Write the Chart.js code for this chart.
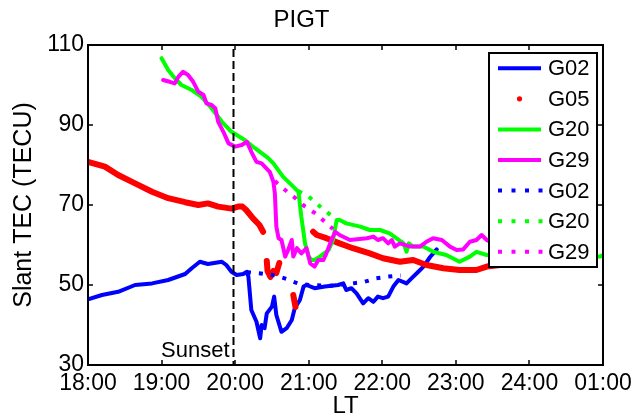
<!DOCTYPE html>
<html>
<head>
<meta charset="utf-8">
<script src="https://cdn.jsdelivr.net/npm/chart.js@4.4.1/dist/chart.umd.min.js"></script>
<style>
html,body{margin:0;padding:0;background:#fff;}
canvas{display:block;}
</style>
</head>
<body>
<canvas id="c" width="644" height="418"></canvas>
<script>
// ---------- data ----------
const xTickLabels = ['18:00','19:00','20:00','21:00','22:00','23:00','24:00','01:00'];
const yTicks = [30, 50, 70, 90, 110];
const sunsetTime = 19.97;

const g02Time = [18.0,18.19,18.41,18.64,18.87,19.09,19.32,19.41,19.52,19.63,19.82,19.88,19.95,20.02,20.11,20.16,20.18,20.22,20.29,20.34,20.36,20.40,20.43,20.50,20.53,20.56,20.63,20.70,20.77,20.81,20.88,20.93,20.97,21.08,21.22,21.40,21.47,21.51,21.58,21.65,21.74,21.81,21.88,21.94,22.01,22.08,22.15,22.22,22.33,22.40,22.49,22.56,22.65,22.74];
const g02Tec  = [46.4,47.5,48.3,50.0,50.4,51.25,52.75,54.2,55.8,55.25,55.8,55.0,53.3,52.5,52.75,53.3,52.1,43.75,40.8,36.7,40.0,39.2,42.9,44.6,47.1,42.5,38.3,39.2,41.25,44.2,46.25,49.6,50.0,49.2,49.6,50.0,50.4,48.75,49.2,47.9,45.4,46.7,45.8,47.1,46.7,47.1,49.6,51.25,50.4,51.7,53.3,54.6,57.0,58.9];

const g05Time = [18.0,18.23,18.41,18.64,18.87,19.09,19.32,19.50,19.63,19.77,19.95,20.04,20.10,20.15,20.24,20.33,20.38,20.40,20.43,20.44,20.48,20.52,20.56,20.60,20.70,20.79,20.81,20.82,21.0,21.06,21.11,21.24,21.42,21.60,21.83,22.01,22.24,22.42,22.60,22.83,23.05,23.28,23.42,23.6];
const g05Tec  = [80.8,79.6,77.5,75.4,73.3,71.7,70.7,70.0,70.4,69.6,69.1,69.6,69.6,68.75,66.7,65.0,63.3,null,56.0,53.5,52.0,53.5,53.0,55.5,null,47.5,45.5,44.5,null,63.3,62.5,61.7,60.4,59.2,57.9,56.7,55.8,56.25,55.0,54.2,53.75,53.75,54.6,55.0];

const g20Time = [19.0,19.09,19.18,19.27,19.41,19.54,19.68,19.82,19.95,20.13,20.27,20.45,20.52,20.65,20.79,20.86,20.90,20.95,21.0,21.04,21.08,21.15,21.27,21.33,21.38,21.42,21.51,21.70,21.83,21.97,22.10,22.19,22.29,22.33,22.36,22.42,22.56,22.69,22.87,23.05,23.19,23.28,23.42,23.7,24.0,24.3,24.6,24.96,25.0];
const g20Tec  = [106.7,103.75,101.7,100.0,98.75,97.1,94.2,90.8,88.3,86.25,84.2,81.7,80.4,77.1,74.6,73.3,67.0,60.4,57.1,56.25,56.25,57.1,58.75,61.25,66.25,66.25,65.4,64.6,63.75,63.75,62.9,61.7,60.4,58.3,60.4,59.6,59.6,58.3,57.5,55.8,57.1,58.3,57.5,57.5,57.0,56.5,56.8,57.1,57.5];

const g29Time = [19.02,19.11,19.18,19.23,19.29,19.36,19.43,19.50,19.57,19.61,19.68,19.73,19.77,19.84,19.91,20.0,20.09,20.16,20.22,20.29,20.36,20.47,20.52,20.54,20.56,20.59,20.63,20.68,20.72,20.77,20.79,20.84,20.90,20.97,21.02,21.08,21.13,21.20,21.24,21.31,21.36,21.42,21.56,21.79,21.88,21.94,22.01,22.08,22.13,22.17,22.24,22.38,22.51,22.60,22.69,22.81,22.92,23.01,23.10,23.19,23.28,23.35,23.42,23.5];
const g29Tec  = [101.25,100.8,100.4,102.1,103.3,102.5,100.8,98.3,97.5,95.4,95.0,94.2,90.8,88.3,85.4,84.6,85.0,85.8,83.3,80.8,80.4,78.3,75.8,72.9,64.6,61.7,61.25,57.1,58.75,61.25,57.1,59.2,57.9,59.2,55.4,54.6,56.25,56.25,57.9,61.25,63.3,62.5,61.25,61.7,62.1,61.25,61.7,60.4,61.25,59.6,60.4,59.6,59.6,60.8,61.7,61.25,59.6,58.75,58.9,60.8,61.25,62.5,61.25,60.5];

const g02dTime = [20.16,20.35,20.55,20.70,20.85,21.0,21.3,21.6,21.76,21.92,22.08,22.25];
const g02dTec  = [53.2,52.9,52.4,51.5,50.4,50.0,49.8,50.4,50.8,51.7,52.1,52.4];

const g20dTime = [20.86,21.0,21.13,21.27,21.38];
const g20dTec  = [73.5,72.1,70.0,67.9,66.25];

const g29dTime = [20.54,20.68,20.82,20.95,21.09,21.22,21.33];
const g29dTec  = [76.0,73.75,71.7,69.6,67.9,65.8,64.0];

// ---------- build ----------
const pts = (t, v) => t.map((x, i) => ({x: x, y: v[i]}));
const FONT = '"Liberation Sans", Arial, sans-serif';
const BLUE = '#0000ff', RED = '#ff0000', GREEN = '#00ff00', MAG = '#ff00ff';

function solid(label, t, v, color, w, order) {
  return {label, data: pts(t, v), borderColor: color, backgroundColor: color, borderWidth: w,
    pointRadius: 0, tension: 0, spanGaps: false, borderJoinStyle: 'round', borderCapStyle: 'round', order, kind: 'solid'};
}
function dotted(label, t, v, color, order) {
  return {label, data: pts(t, v), borderColor: color, backgroundColor: color, borderWidth: 4,
    pointRadius: 0, tension: 0, borderDash: [4, 8], borderCapStyle: 'butt', order, kind: 'dotted'};
}

const datasets = [
  solid('G02', g02Time, g02Tec, BLUE, 4, 7),
  Object.assign(solid('G05', g05Time, g05Tec, RED, 6, 6), {kind: 'dot'}),
  solid('G20', g20Time, g20Tec, GREEN, 4, 5),
  solid('G29', g29Time, g29Tec, MAG, 4, 4),
  dotted('G02', g02dTime, g02dTec, BLUE, 3),
  dotted('G20', g20dTime, g20dTec, GREEN, 2),
  dotted('G29', g29dTime, g29dTec, MAG, 1)
];

const decor = {
  id: 'decor',
  afterDatasetsDraw(chart) {
    const {ctx, chartArea: a, scales: {x, y}} = chart;
    ctx.save();
    // sunset line
    const sx = Math.round(x.getPixelForValue(sunsetTime)) + 0.5;
    ctx.strokeStyle = '#000';
    ctx.lineWidth = 2;
    ctx.setLineDash([8, 4]);
    ctx.beginPath();
    ctx.moveTo(sx, a.top + 4);
    ctx.lineTo(sx, a.bottom);
    ctx.stroke();
    ctx.setLineDash([]);
    ctx.fillStyle = '#000';
    ctx.font = '22px ' + FONT;
    ctx.textAlign = 'right';
    ctx.textBaseline = 'alphabetic';
    ctx.fillText('Sunset', sx - 4, a.bottom - 8);
    // box
    ctx.lineWidth = 2;
    ctx.strokeRect(a.left, a.top, a.right - a.left, a.bottom - a.top);
    // inward ticks
    const tl = 5;
    ctx.beginPath();
    x.ticks.forEach(t => {
      const px = Math.round(x.getPixelForValue(t.value));
      ctx.moveTo(px, a.top); ctx.lineTo(px, a.top + tl);
      ctx.moveTo(px, a.bottom); ctx.lineTo(px, a.bottom - tl);
    });
    y.ticks.forEach(t => {
      const py = Math.round(y.getPixelForValue(t.value));
      ctx.moveTo(a.left, py); ctx.lineTo(a.left + tl, py);
      ctx.moveTo(a.right, py); ctx.lineTo(a.right - tl, py);
    });
    ctx.lineWidth = 1.5;
    ctx.stroke();
    // legend
    const L = a.right - 114, T = a.top + 8, R = a.right - 6, B = a.top + 222;
    ctx.fillStyle = '#fff';
    ctx.fillRect(L, T, R - L, B - T);
    ctx.strokeStyle = '#000';
    ctx.lineWidth = 2;
    ctx.strokeRect(L, T, R - L, B - T);
    const step = (B - T) / chart.data.datasets.length;
    ctx.font = '22px ' + FONT;
    ctx.textAlign = 'left';
    ctx.textBaseline = 'middle';
    chart.data.datasets.forEach((ds, i) => {
      const cy = T + step * (i + 0.5);
      const x0 = L + 9, x1 = L + 52;
      ctx.strokeStyle = ds.borderColor;
      ctx.fillStyle = ds.borderColor;
      if (ds.kind === 'dot') {
        ctx.beginPath();
        ctx.arc((x0 + x1) / 2, cy, 2.6, 0, Math.PI * 2);
        ctx.fill();
      } else {
        ctx.lineWidth = 4;
        ctx.lineCap = 'butt';
        ctx.setLineDash(ds.kind === 'dotted' ? [4, 9.5] : []);
        ctx.beginPath();
        ctx.moveTo(x0, cy);
        ctx.lineTo(x1 + (ds.kind === 'dotted' ? 2 : 0), cy);
        ctx.stroke();
        ctx.setLineDash([]);
      }
      ctx.fillStyle = '#000';
      ctx.fillText(ds.label, L + 59, cy + 1);
    });
    ctx.restore();
  }
};

new Chart(document.getElementById('c'), {
  type: 'line',
  data: {datasets},
  plugins: [decor],
  options: {
    responsive: false,
    animation: false,
    devicePixelRatio: 1,
    parsing: true,
    layout: {padding: {left: 0, right: 41, top: 0, bottom: 0}},
    plugins: {
      legend: {display: false},
      tooltip: {enabled: false},
      title: {display: true, text: 'PIGT', color: '#000',
        font: {family: FONT, size: 24, weight: 'normal'}, padding: {top: 6, bottom: 10.2}}
    },
    scales: {
      x: {
        type: 'linear', min: 18, max: 25,
        afterFit: s => { s.height = 53; },
        grid: {display: false, drawTicks: false},
        border: {display: false},
        ticks: {stepSize: 1, color: '#000', padding: 5, maxRotation: 0, autoSkip: false,
          font: {family: FONT, size: 23},
          callback: v => xTickLabels[Math.round(v - 18)]},
        title: {display: true, text: 'LT', color: '#000', font: {family: FONT, size: 24}, padding: {top: 0, bottom: -3}}
      },
      y: {
        type: 'linear', min: 30, max: 110,
        afterFit: s => { s.width = 88; },
        grid: {display: false, drawTicks: false},
        border: {display: false},
        ticks: {stepSize: 20, color: '#000', padding: 4,
          font: {family: FONT, size: 23}},
        title: {display: true, text: 'Slant TEC (TECU)', color: '#000', font: {family: FONT, size: 25}, padding: {top: 9, bottom: 0}}
      }
    }
  }
});
</script>
</body>
</html>
